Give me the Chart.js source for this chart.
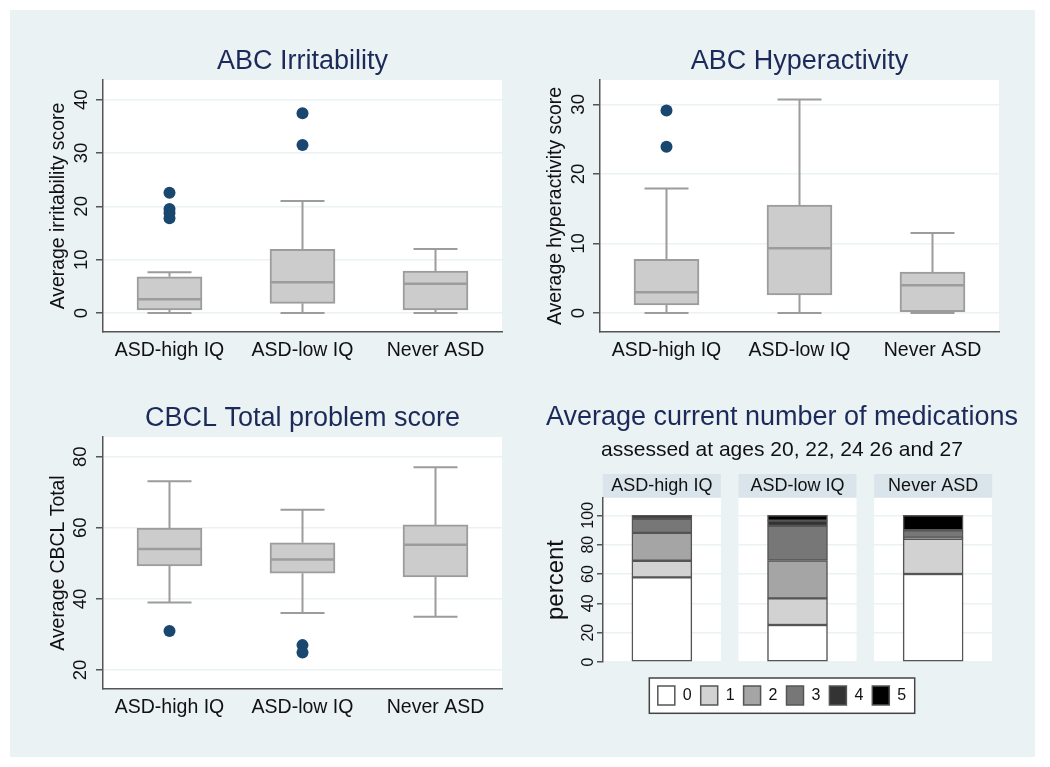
<!DOCTYPE html>
<html><head><meta charset="utf-8">
<script src="https://cdn.jsdelivr.net/npm/chart.js@4.4.1/dist/chart.umd.min.js"></script>
<style>
html,body{margin:0;padding:0;background:#ffffff;}
#wrap{position:relative;width:1050px;height:767px;overflow:hidden;background:#ffffff;}
#bg{position:absolute;left:10px;top:10px;width:1025px;height:747px;background:#eaf2f3;}
canvas{position:absolute;left:0;top:0;}
</style></head><body>
<div id="wrap"><div id="bg"></div>
<canvas id="c1" width="1050" height="767"></canvas>
<canvas id="c2" width="1050" height="767"></canvas>
<canvas id="c3" width="1050" height="767"></canvas>
<canvas id="c4" width="1050" height="767"></canvas>
</div>
<script>
// ---------------- data ----------------
const groups = ['ASD-high IQ', 'ASD-low IQ', 'Never ASD'];

// ABC Irritability
const irrLow    = [0, 0, 0];
const irrQ1     = [0.56, 1.82, 0.56];
const irrMedian = [2.57, 5.76, 5.5];
const irrQ3     = [6.8, 11.94, 7.88];
const irrHigh   = [7.63, 21.0, 12.0];
const irrOutlierGroup = [0, 0, 0, 0, 1, 1];
const irrOutlierValue = [22.56, 19.5, 18.75, 17.76, 37.45, 31.5];
const irrTicks = [0, 10, 20, 30, 40];

// ABC Hyperactivity
const hypLow    = [0, 0, 0];
const hypQ1     = [1.15, 2.6, 0.2];
const hypMedian = [3.0, 9.3, 4.0];
const hypQ3     = [7.7, 15.5, 5.9];
const hypHigh   = [17.9, 30.7, 11.5];
const hypOutlierGroup = [0, 0];
const hypOutlierValue = [29.1, 23.9];
const hypTicks = [0, 10, 20, 30];

// CBCL Total problem score
const cbclLow    = [39.0, 36.0, 35.0];
const cbclQ1     = [49.3, 47.2, 46.2];
const cbclMedian = [54.0, 51.1, 55.2];
const cbclQ3     = [59.9, 55.8, 60.8];
const cbclHigh   = [73.1, 65.1, 77.0];
const cbclOutlierGroup = [0, 1, 1];
const cbclOutlierValue = [31.0, 27.0, 24.9];
const cbclTicks = [20, 40, 60, 80];

// Medications (percent by number of medications, per group)
const medLabels = ['0', '1', '2', '3', '4', '5'];
const med0 = [57.7, 25.2, 60.0];
const med1 = [11.3, 18.2, 24.0];
const med2 = [19.0, 25.8, 0.8];
const med3 = [9.6, 23.6, 5.0];
const med4 = [2.4, 3.6, 0.0];
const med5 = [0.0, 3.6, 10.2];
const medTicks = [0, 20, 40, 60, 80, 100];

// ---------------- style ----------------
const FONT = "'Liberation Sans', Arial, Helvetica, sans-serif";
Chart.defaults.font.family = FONT;
const TITLE_COLOR = '#1c2a5a';
const TEXT = '#111111';
const AXIS = '#555555';
const GRID = '#eaf2f3';
const BOX_FILL = '#cccccc';
const BOX_LINE = '#9c9c9c';
const DOT = '#1a476f';
const MED_COLORS = ['#ffffff', '#d2d2d2', '#a5a5a5', '#777777', '#333333', '#000000'];
const PAGE_W = 1050, PAGE_H = 767;

const boxPlugin = {
  id: 'boxExtras',
  beforeDraw(chart) {
    const a = chart.chartArea, ctx = chart.ctx;
    ctx.save();
    ctx.fillStyle = '#ffffff';
    ctx.fillRect(a.left, a.top, a.right - a.left, a.bottom - a.top);
    ctx.restore();
  },
  afterDatasetsDraw(chart) {
    const ds = chart.data.datasets[0];
    const xs = chart.scales.x, ys = chart.scales.y, ctx = chart.ctx;
    const half = ds.barThickness / 2, cap = ds.capWidth / 2;
    ctx.save();
    ctx.strokeStyle = BOX_LINE;
    ctx.lineCap = 'butt';
    ds.data.forEach((box, i) => {
      const xc = xs.getPixelForValue(i);
      const yq1 = ys.getPixelForValue(box[0]);
      const yq3 = ys.getPixelForValue(box[1]);
      const ylo = ys.getPixelForValue(ds.lows[i]);
      const yhi = ys.getPixelForValue(ds.highs[i]);
      const ymed = ys.getPixelForValue(ds.medians[i]);
      ctx.lineWidth = 2;
      ctx.beginPath();
      ctx.moveTo(xc, yq3); ctx.lineTo(xc, yhi);
      ctx.moveTo(xc - cap, yhi); ctx.lineTo(xc + cap, yhi);
      ctx.moveTo(xc, yq1); ctx.lineTo(xc, ylo);
      ctx.moveTo(xc - cap, ylo); ctx.lineTo(xc + cap, ylo);
      ctx.stroke();
      ctx.lineWidth = 2.5;
      ctx.beginPath();
      ctx.moveTo(xc - half + 1, ymed); ctx.lineTo(xc + half - 1, ymed);
      ctx.stroke();
    });
    ctx.restore();
  }
};

function boxChart(id, c) {
  const r = c.rect;
  const yW = 60, xH = 40, titleH = 27 * 1.2 + 2.5;
  return new Chart(document.getElementById(id), {
    type: 'bar',
    data: {
      labels: groups,
      datasets: [
        {
          type: 'bar',
          data: c.q1.map((v, i) => [v, c.q3[i]]),
          lows: c.low, highs: c.high, medians: c.median,
          backgroundColor: BOX_FILL, borderColor: BOX_LINE, borderWidth: 2,
          borderSkipped: false, barThickness: 65, capWidth: 44, order: 2
        },
        {
          type: 'line',
          data: c.outGroup.map((g, k) => ({ x: groups[g], y: c.outValue[k] })),
          showLine: false, pointRadius: 6, pointHoverRadius: 6,
          pointBackgroundColor: DOT, pointBorderWidth: 0, borderWidth: 0, order: 1
        }
      ]
    },
    options: {
      responsive: false, animation: false, events: [], devicePixelRatio: 1,
      layout: { padding: { left: r.left - yW, right: PAGE_W - r.right, top: r.top - titleH, bottom: PAGE_H - r.bottom - xH } },
      plugins: {
        legend: { display: false }, tooltip: { enabled: false },
        title: { display: true, text: c.title, fullSize: false, color: TITLE_COLOR,
                 font: { size: 27, weight: 'normal', lineHeight: 1.2 }, padding: { top: 0, bottom: 2.5 } }
      },
      scales: {
        x: {
          type: 'category', offset: true,
          grid: { display: false, drawTicks: false },
          border: { display: true, color: AXIS, width: 1.5 },
          ticks: { color: TEXT, font: { size: 19.5, lineHeight: 1.2 }, padding: 7, maxRotation: 0, autoSkip: false },
          afterFit: s => { s.height = xH; }
        },
        y: {
          type: 'linear', min: c.yMin, max: c.yMax,
          afterBuildTicks: s => { s.ticks = c.ticks.map(v => ({ value: v })); },
          afterFit: s => { s.width = yW; },
          border: { display: true, color: AXIS, width: 1.5 },
          grid: { color: GRID, lineWidth: 1.5, tickLength: 7, tickColor: AXIS, tickWidth: 1.5 },
          ticks: { minRotation: 90, maxRotation: 90, crossAlign: 'center', padding: c.tickPad, autoSkip: false,
                   color: TEXT, font: { size: 18.5 } },
          title: { display: true, text: c.yTitle, color: TEXT, font: { size: 19.4, lineHeight: 1.2 },
                   padding: { top: 3.9, bottom: 0 } }
        }
      }
    },
    plugins: [boxPlugin]
  });
}

boxChart('c1', {
  title: 'ABC Irritability', yTitle: 'Average irritability score',
  low: irrLow, q1: irrQ1, median: irrMedian, q3: irrQ3, high: irrHigh,
  outGroup: irrOutlierGroup, outValue: irrOutlierValue, ticks: irrTicks,
  yMin: -3.56, yMax: 43.69, tickPad: 4, rect: { left: 103, right: 502, top: 80, bottom: 332 }
});
boxChart('c2', {
  title: 'ABC Hyperactivity', yTitle: 'Average hyperactivity score',
  low: hypLow, q1: hypQ1, median: hypMedian, q3: hypQ3, high: hypHigh,
  outGroup: hypOutlierGroup, outValue: hypOutlierValue, ticks: hypTicks,
  yMin: -2.73, yMax: 33.5, tickPad: 4, rect: { left: 600, right: 999, top: 80, bottom: 332 }
});
boxChart('c3', {
  title: 'CBCL Total problem score', yTitle: 'Average CBCL Total',
  low: cbclLow, q1: cbclQ1, median: cbclMedian, q3: cbclQ3, high: cbclHigh,
  outGroup: cbclOutlierGroup, outValue: cbclOutlierValue, ticks: cbclTicks,
  yMin: 14.66, yMax: 85.53, tickPad: 5, rect: { left: 103, right: 502, top: 437, bottom: 689 }
});

// ---------------- medications panel ----------------
const medSeries = [med0, med1, med2, med3, med4, med5];
const facetPlugin = {
  id: 'facets',
  beforeDraw(chart) {
    const a = chart.chartArea, ctx = chart.ctx, xs = chart.scales.x;
    const halfW = 59, stripH = 23.5;
    ctx.save();
    groups.forEach((g, i) => {
      const xc = xs.getPixelForValue(i);
      ctx.fillStyle = '#ffffff';
      ctx.fillRect(xc - halfW, a.top, 2 * halfW, a.bottom - a.top);
      ctx.fillStyle = '#d9e5ea';
      ctx.fillRect(xc - halfW, a.top - stripH - 0.5, 2 * halfW, stripH);
      ctx.fillStyle = TEXT;
      ctx.font = '18px ' + FONT;
      ctx.textAlign = 'center';
      ctx.textBaseline = 'middle';
      ctx.fillText(g, xc, a.top - stripH / 2 - 0.5);
    });
    // legend frame
    const L = chart.legend;
    if (L && L.legendHitBoxes && L.legendHitBoxes.length) {
      const hb = L.legendHitBoxes, last = hb[hb.length - 1];
      const left = hb[0].left - 8.5, right = last.left + last.width + 8.5;
      const top = hb[0].top - 8, bottom = hb[0].top + 19 + 8.3;
      ctx.fillStyle = '#ffffff';
      ctx.fillRect(left, top, right - left, bottom - top);
      ctx.strokeStyle = '#444444';
      ctx.lineWidth = 1.5;
      ctx.strokeRect(left, top, right - left, bottom - top);
    }
    ctx.restore();
  }
};

new Chart(document.getElementById('c4'), {
  type: 'bar',
  data: {
    datasets: medLabels.map((lab, k) => ({
      label: lab,
      data: medSeries[k].map((v, i) => ({ x: i, y: v })),
      backgroundColor: MED_COLORS[k], borderColor: '#555555', borderWidth: 1.5,
      borderSkipped: false, barThickness: 60
    }))
  },
  options: {
    responsive: false, animation: false, events: [], devicePixelRatio: 1,
    layout: { padding: { left: 532, right: 18, top: 401.3, bottom: 52 } },
    plugins: {
      tooltip: { enabled: false },
      title: { display: true, text: 'Average current number of medications', color: TITLE_COLOR,
               font: { size: 27, weight: 'normal', lineHeight: 1.2 }, padding: 0 },
      subtitle: { display: true, text: 'assessed at ages 20, 22, 24 26 and 27', color: TEXT,
                  font: { size: 21, lineHeight: 1.2 }, padding: { top: 4, bottom: 35.1 } },
      legend: { display: true, position: 'bottom',
                labels: { boxWidth: 17, boxHeight: 19, padding: 9, color: TEXT, font: { size: 16 } } }
    },
    scales: {
      x: {
        type: 'linear', min: -0.434, max: 2.434, stacked: true, offset: false,
        grid: { display: false, drawTicks: false }, border: { display: false },
        ticks: { display: false },
        afterFit: s => { s.height = 15; }
      },
      y: {
        stacked: true, min: 0, max: 111.8,
        afterBuildTicks: s => { s.ticks = medTicks.map(v => ({ value: v })); },
        afterFit: s => { s.width = 71; },
        border: { display: true, color: AXIS, width: 1.5 },
        grid: { color: GRID, lineWidth: 1.5, tickLength: 6, tickColor: AXIS, tickWidth: 1.5 },
        ticks: { minRotation: 90, maxRotation: 90, crossAlign: 'center', padding: -4.6, autoSkip: false,
                 color: TEXT, font: { size: 16 } },
        title: { display: true, text: 'percent', color: TEXT, font: { size: 24, lineHeight: 1.2 },
                 padding: { top: 10.3, bottom: 0 } }
      },
      yRightSpace: {
        type: 'linear', position: 'right', display: true,
        grid: { display: false, drawTicks: false }, border: { display: false },
        ticks: { display: false },
        afterFit: s => { s.width = 40; }
      }
    }
  },
  plugins: [facetPlugin]
});
</script>
</body></html>
